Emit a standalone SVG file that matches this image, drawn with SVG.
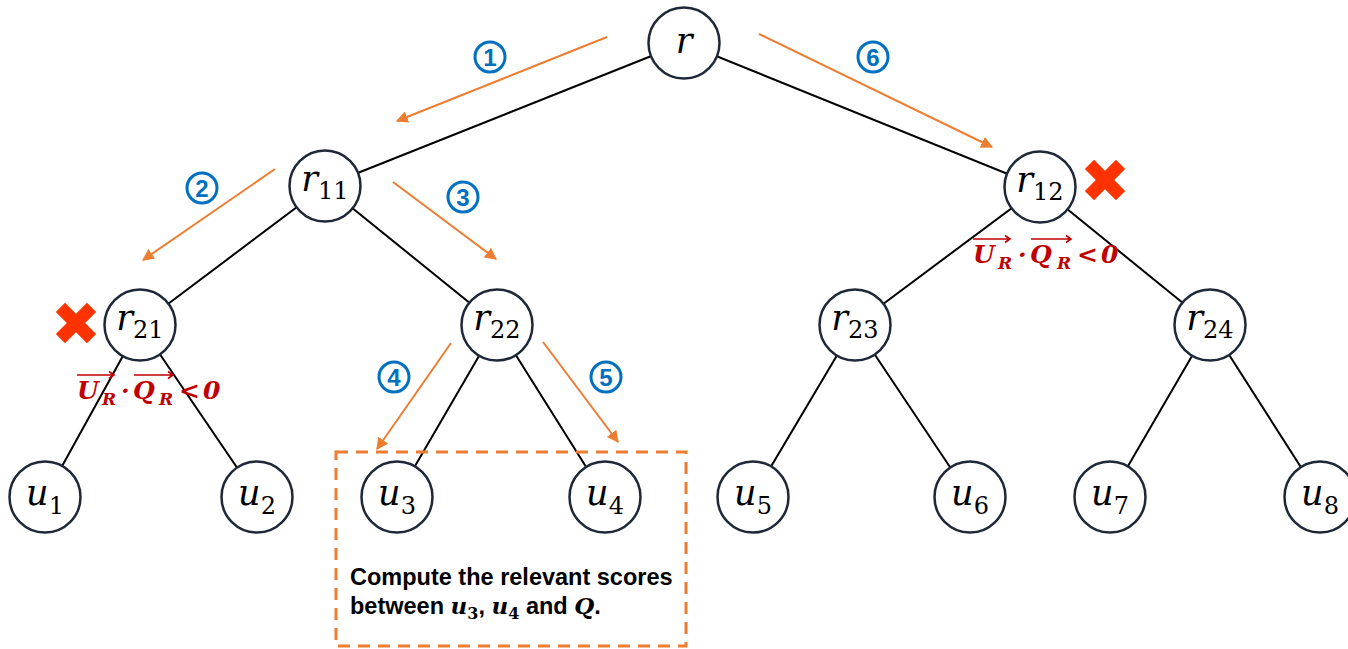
<svg xmlns="http://www.w3.org/2000/svg" width="1348" height="649" viewBox="0 0 1348 649">
  <style>
    .edge { stroke: #000; stroke-width: 2; fill: none; }
    .node circle { fill: #fff; stroke: #1e2838; stroke-width: 2.5; }
    .lbl { font-family: "DejaVu Serif", "Liberation Serif", serif; font-style: italic; font-size: 35px; fill: #000; }
    .sub { font-family: "DejaVu Serif", "Liberation Serif", serif; font-style: normal; font-size: 24px; }
    .step { stroke: #ed7d31; stroke-width: 2; fill: none; }
    .num circle { fill: #fff; stroke: #0070c0; stroke-width: 3; }
    .num text { font-family: "Liberation Sans", Arial, sans-serif; font-weight: bold; font-size: 24px; fill: #0070c0; text-anchor: middle; }
    .cond { font-family: "DejaVu Serif", "Liberation Serif", serif; font-style: italic; font-weight: bold; font-size: 25px; fill: #c00000; }
    .cond .s { font-size: 17px; }
    .vec { stroke: #c00000; stroke-width: 1.6; fill: none; }
    .cross { fill: #ff3300; }
    .note { font-family: "Liberation Sans", Arial, sans-serif; font-weight: bold; font-size: 23.5px; fill: #000; }
    .note .m { font-family: "DejaVu Serif", "Liberation Serif", serif; font-style: italic; font-size: 23px; }
    .note .ms { font-family: "DejaVu Serif", "Liberation Serif", serif; font-style: normal; font-size: 16px; }
  </style>
  <defs>
    <marker id="head" viewBox="0 0 10 10" refX="9" refY="5" markerWidth="6" markerHeight="6" orient="auto" markerUnits="strokeWidth">
      <path d="M0,0 L10,5 L0,10 Z" fill="#ed7d31"/>
    </marker>
    <polygon id="xmark" transform="rotate(45)" points="-6.5,-22 6.5,-22 6.5,-6.5 22,-6.5 22,6.5 6.5,6.5 6.5,22 -6.5,22 -6.5,6.5 -22,6.5 -22,-6.5 -6.5,-6.5"/>
  </defs>

  <!-- tree edges -->
  <g id="edges">
    <line class="edge" x1="684" y1="43" x2="325" y2="186"/>
    <line class="edge" x1="684" y1="43" x2="1040" y2="187"/>
    <line class="edge" x1="325" y1="186" x2="140" y2="325"/>
    <line class="edge" x1="325" y1="186" x2="497" y2="325"/>
    <line class="edge" x1="1040" y1="187" x2="855" y2="325"/>
    <line class="edge" x1="1040" y1="187" x2="1210" y2="325"/>
    <line class="edge" x1="140" y1="325" x2="45" y2="497"/>
    <line class="edge" x1="140" y1="325" x2="257" y2="497"/>
    <line class="edge" x1="497" y1="325" x2="397" y2="497"/>
    <line class="edge" x1="497" y1="325" x2="605" y2="497"/>
    <line class="edge" x1="855" y1="325" x2="753" y2="497"/>
    <line class="edge" x1="855" y1="325" x2="970" y2="497"/>
    <line class="edge" x1="1210" y1="325" x2="1110" y2="497"/>
    <line class="edge" x1="1210" y1="325" x2="1320" y2="497"/>
  </g>

  <!-- traversal steps -->
  <g id="steps">
    <line class="step" x1="607" y1="37" x2="397" y2="121" marker-end="url(#head)"/>
    <line class="step" x1="759" y1="34" x2="992" y2="147" marker-end="url(#head)"/>
    <line class="step" x1="275" y1="169" x2="143" y2="260" marker-end="url(#head)"/>
    <line class="step" x1="393" y1="182" x2="496" y2="259" marker-end="url(#head)"/>
    <line class="step" x1="451" y1="343" x2="377" y2="449" marker-end="url(#head)"/>
    <line class="step" x1="543" y1="342" x2="618" y2="442" marker-end="url(#head)"/>
  </g>

  <!-- step numbers -->
  <g id="step-numbers" class="num">
    <g id="n1"><circle cx="490" cy="57" r="15"/><text x="490" y="65.5">1</text></g>
    <g id="n2"><circle cx="202" cy="188" r="15"/><text x="202" y="196.5">2</text></g>
    <g id="n3"><circle cx="463" cy="197" r="15"/><text x="463" y="205.5">3</text></g>
    <g id="n4"><circle cx="394" cy="377" r="15"/><text x="394" y="385.5">4</text></g>
    <g id="n5"><circle cx="606" cy="377" r="15"/><text x="606" y="385.5">5</text></g>
    <g id="n6"><circle cx="873" cy="57" r="15"/><text x="873" y="65.5">6</text></g>
  </g>

  <!-- nodes -->
  <g id="node-r" class="node"><circle cx="684" cy="43" r="35.5"/><text class="lbl" x="684" y="53" text-anchor="middle">r</text></g>
  <g id="node-r11" class="node"><circle cx="325" cy="186" r="35.5"/><text class="lbl" x="325" y="191" text-anchor="middle">r<tspan class="sub" dy="8">11</tspan></text></g>
  <g id="node-r12" class="node"><circle cx="1040" cy="187" r="35.5"/><text class="lbl" x="1040" y="192" text-anchor="middle">r<tspan class="sub" dy="8">12</tspan></text></g>
  <g id="node-r21" class="node"><circle cx="140" cy="325" r="35.5"/><text class="lbl" x="140" y="330" text-anchor="middle">r<tspan class="sub" dy="8">21</tspan></text></g>
  <g id="node-r22" class="node"><circle cx="497" cy="325" r="35.5"/><text class="lbl" x="497" y="330" text-anchor="middle">r<tspan class="sub" dy="8">22</tspan></text></g>
  <g id="node-r23" class="node"><circle cx="855" cy="325" r="35.5"/><text class="lbl" x="855" y="330" text-anchor="middle">r<tspan class="sub" dy="8">23</tspan></text></g>
  <g id="node-r24" class="node"><circle cx="1210" cy="325" r="35.5"/><text class="lbl" x="1210" y="330" text-anchor="middle">r<tspan class="sub" dy="8">24</tspan></text></g>
  <g id="node-u1" class="node"><circle cx="45" cy="497" r="35.5"/><text class="lbl" x="45" y="505" text-anchor="middle">u<tspan class="sub" dy="9">1</tspan></text></g>
  <g id="node-u2" class="node"><circle cx="257" cy="497" r="35.5"/><text class="lbl" x="257" y="505" text-anchor="middle">u<tspan class="sub" dy="9">2</tspan></text></g>
  <g id="node-u3" class="node"><circle cx="397" cy="497" r="35.5"/><text class="lbl" x="397" y="505" text-anchor="middle">u<tspan class="sub" dy="9">3</tspan></text></g>
  <g id="node-u4" class="node"><circle cx="605" cy="497" r="35.5"/><text class="lbl" x="605" y="505" text-anchor="middle">u<tspan class="sub" dy="9">4</tspan></text></g>
  <g id="node-u5" class="node"><circle cx="753" cy="497" r="35.5"/><text class="lbl" x="753" y="505" text-anchor="middle">u<tspan class="sub" dy="9">5</tspan></text></g>
  <g id="node-u6" class="node"><circle cx="970" cy="497" r="35.5"/><text class="lbl" x="970" y="505" text-anchor="middle">u<tspan class="sub" dy="9">6</tspan></text></g>
  <g id="node-u7" class="node"><circle cx="1110" cy="497" r="35.5"/><text class="lbl" x="1110" y="505" text-anchor="middle">u<tspan class="sub" dy="9">7</tspan></text></g>
  <g id="node-u8" class="node"><circle cx="1320" cy="497" r="35.5"/><text class="lbl" x="1320" y="505" text-anchor="middle">u<tspan class="sub" dy="9">8</tspan></text></g>

  <!-- pruned subtrees -->
  <g id="prune-r12">
    <use href="#xmark" class="cross" transform="translate(1105,180)"/>
    <g transform="translate(973,263)">
      <path class="vec" d="M0,-24 H37 M32,-27.5 L37,-24 L32,-20.5"/>
      <path class="vec" d="M58,-24 H98 M93,-27.5 L98,-24 L93,-20.5"/>
      <text class="cond"><tspan x="0" y="0">U</tspan><tspan class="s" x="25" y="6">R</tspan><tspan x="45" y="0">·</tspan><tspan x="57" y="0">Q</tspan><tspan class="s" x="84" y="6">R</tspan><tspan x="104" y="0">&lt;</tspan><tspan x="128" y="0">0</tspan></text>
    </g>
  </g>
  <g id="prune-r21">
    <use href="#xmark" class="cross" transform="translate(76,323)"/>
    <g transform="translate(77,399)">
      <path class="vec" d="M0,-24 H37 M32,-27.5 L37,-24 L32,-20.5"/>
      <path class="vec" d="M57,-24 H96 M91,-27.5 L96,-24 L91,-20.5"/>
      <text class="cond"><tspan x="0" y="0">U</tspan><tspan class="s" x="25" y="6">R</tspan><tspan x="44" y="0">·</tspan><tspan x="56" y="0">Q</tspan><tspan class="s" x="82" y="6">R</tspan><tspan x="102" y="0">&lt;</tspan><tspan x="126" y="0">0</tspan></text>
    </g>
  </g>

  <!-- leaf scoring note -->
  <g id="note">
    <rect x="336" y="452" width="350" height="194" fill="none" stroke="#ed7d31" stroke-width="3" stroke-dasharray="12 8"/>
    <text class="note" x="350" y="585">Compute the relevant scores</text>
    <text class="note" x="350" y="614">between <tspan class="m">u</tspan><tspan class="ms" dy="5">3</tspan><tspan dy="-5">, </tspan><tspan class="m">u</tspan><tspan class="ms" dy="5">4</tspan><tspan dy="-5"> and </tspan><tspan class="m">Q</tspan>.</text>
  </g>
</svg>
